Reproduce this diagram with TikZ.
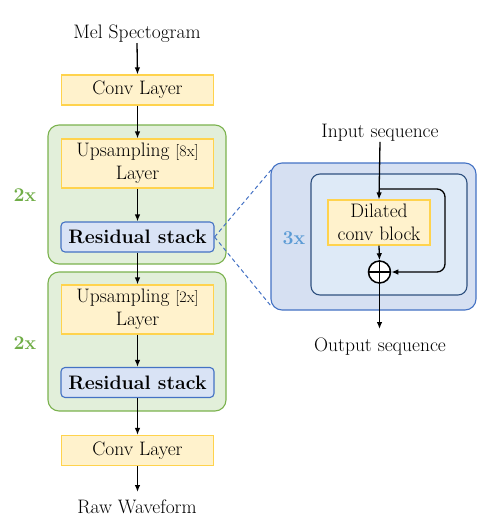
\documentclass[tikz,border=0pt]{standalone}
\usetikzlibrary{arrows.meta}
\definecolor{yfill}{HTML}{FFF2CC}
\definecolor{ydraw}{HTML}{FFD34D}
\definecolor{gfill}{HTML}{E2EFDA}
\definecolor{gdraw}{HTML}{7BB24E}
\definecolor{gtext}{HTML}{70AD47}
\definecolor{rfill}{HTML}{D9E3F5}
\definecolor{rdraw}{HTML}{4472C4}
\definecolor{bfill}{HTML}{D6E0F2}
\definecolor{ifill}{HTML}{DEEAF7}
\definecolor{idraw}{HTML}{2F5180}
\definecolor{btext}{HTML}{5B9BD5}
\begin{document}
\begin{tikzpicture}[x=1pt,y=-1pt,
  every node/.style={font=\fontsize{19.5}{23}\selectfont, align=center, inner sep=0pt},
  arr/.style={-{Latex[length=7pt,width=5.5pt]}, line width=1.3pt, black},
  ybox/.style={draw=ydraw, fill=yfill, line width=1.1pt, minimum width=152pt},
  rbox/.style={draw=rdraw, fill=rfill, line width=1.1pt, rounded corners=4pt, minimum width=153pt, minimum height=30pt, font=\fontsize{19.5}{23}\selectfont\bfseries},
  gbox/.style={draw=gdraw, fill=gfill, line width=1.1pt, rounded corners=11pt},
  rep/.style={font=\fontsize{19.5}{23}\selectfont\bfseries}
]
\useasboundingbox (0,0) rectangle (502,531);
% green containers
\draw[gbox] (48,125) rectangle (226,264);
\draw[gbox] (48,272) rectangle (226,411);
% right big boxes
\draw[draw=rdraw, fill=bfill, line width=1.1pt, rounded corners=11pt] (271,163) rectangle (476,310);
\draw[draw=idraw, fill=ifill, line width=1.1pt, rounded corners=9pt] (311,174) rectangle (467,295);

\node (mel) at (137,34) {Mel Spectogram};
\node[ybox, minimum height=30pt] (conv1) at (137.5,90) {Conv Layer};
\node[ybox, minimum height=49pt] (up1) at (137.5,163.5) {Upsampling {\fontsize{16}{19}\selectfont[8x]}\\Layer};
\node[rbox] (res1) at (137.5,237) {Residual stack};
\node[ybox, minimum height=49pt] (up2) at (137.5,309.5) {Upsampling {\fontsize{16}{19}\selectfont[2x]}\\Layer};
\node[rbox] (res2) at (137.5,382.5) {Residual stack};
\node[ybox, minimum height=30pt] (conv2) at (137.5,450.5) {Conv Layer};
\node (raw) at (137,507) {Raw Waveform};
\node[rep, text=gtext] (rep1) at (25,195) {2x};
\node[rep, text=gtext] (rep2) at (25,343) {2x};

\draw[arr] (mel.south) -- (conv1.north);
\draw[arr] (conv1.south) -- (up1.north);
\draw[arr] (up1.south) -- (res1.north);
\draw[arr] (res1.south) -- (up2.north);
\draw[arr] (up2.south) -- (res2.north);
\draw[arr] (res2.south) -- (conv2.north);
\coordinate (rawtop) at (137.5,492);
\draw[arr] (conv2.south) -- (rawtop);

% residual detail
\node[rep, text=btext] (rep3) at (294,238) {3x};
\node (inp) at (380,133) {Input sequence};
\node[ybox, minimum width=102pt, minimum height=45pt] (dil) at (379,222.5) {Dilated\\conv block};
\node[circle, draw, line width=1.5pt, minimum size=22pt, fill=white] (plus) at (379.5,272) {};
\draw[line width=1.5pt] (plus.north) -- (plus.south) (plus.west) -- (plus.east);
\draw[arr] (inp.south) -- (dil.north);
\draw[arr] (dil.south) -- (plus.north);
\coordinate (skipA) at (379.5,189);
\coordinate (skipB) at (445,189);
\coordinate (skipC) at (445,272);
\draw[arr, rounded corners=8pt] (skipA) -- (skipB) -- (skipC) -- (plus.east);
\coordinate (outend) at (379.5,329);
\draw[arr] (plus.south) -- (outend);
\node (outp) at (380,347) {Output sequence};

% dashed zoom lines
\coordinate (zA) at (271,170);
\coordinate (zB) at (271,306);
\draw[rdraw, line width=1pt, dash pattern=on 4pt off 3pt] (res1.east) -- (zA);
\draw[rdraw, line width=1pt, dash pattern=on 4pt off 3pt] (res1.east) -- (zB);
\end{tikzpicture}
\end{document}
